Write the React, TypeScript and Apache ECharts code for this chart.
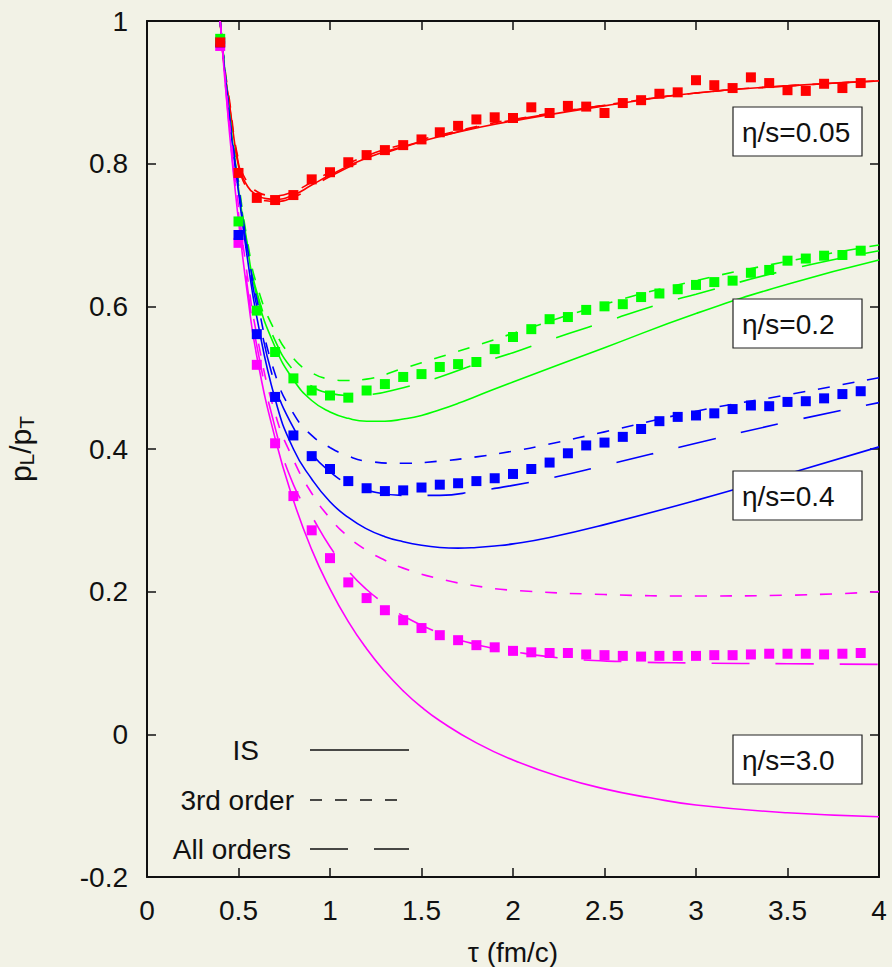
import React, { useEffect, useRef } from "react";
import * as echarts from "echarts";

const FONT = '"Liberation Sans", Arial, sans-serif';
const INK = "#111";
const FS = 28;

const TAU = [0.4, 0.5, 0.6, 0.7, 0.8, 0.9, 1.0, 1.1, 1.2, 1.3, 1.4, 1.5, 1.6, 1.7, 1.8, 1.9, 2.0, 2.1, 2.2, 2.3, 2.4, 2.5, 2.6, 2.7, 2.8, 2.9, 3.0, 3.1, 3.2, 3.3, 3.4, 3.5, 3.6, 3.7, 3.8, 3.9];

const RED_PTS = [0.97, 0.787, 0.752, 0.749, 0.756, 0.778, 0.788, 0.802, 0.812, 0.819, 0.826, 0.834, 0.844, 0.853, 0.862, 0.865, 0.864, 0.879, 0.871, 0.881, 0.88, 0.871, 0.885, 0.889, 0.898, 0.9, 0.917, 0.91, 0.906, 0.921, 0.913, 0.903, 0.902, 0.912, 0.906, 0.913];
const GREEN_PTS = [0.975, 0.719, 0.594, 0.536, 0.499, 0.482, 0.475, 0.472, 0.482, 0.491, 0.501, 0.505, 0.515, 0.519, 0.522, 0.54, 0.557, 0.568, 0.582, 0.585, 0.595, 0.6, 0.603, 0.613, 0.618, 0.624, 0.63, 0.634, 0.636, 0.647, 0.651, 0.664, 0.667, 0.671, 0.672, 0.678];
const BLUE_PTS = [0.97, 0.7, 0.561, 0.473, 0.419, 0.39, 0.372, 0.355, 0.345, 0.341, 0.342, 0.346, 0.35, 0.352, 0.355, 0.359, 0.365, 0.372, 0.381, 0.394, 0.405, 0.409, 0.417, 0.428, 0.439, 0.445, 0.447, 0.45, 0.456, 0.461, 0.46, 0.466, 0.467, 0.471, 0.477, 0.481];
const MAG_PTS = [0.965, 0.689, 0.518, 0.408, 0.334, 0.286, 0.247, 0.213, 0.191, 0.174, 0.16, 0.149, 0.139, 0.132, 0.125, 0.122, 0.117, 0.115, 0.114, 0.114, 0.112, 0.111, 0.11, 0.109, 0.11, 0.11, 0.11, 0.111, 0.111, 0.112, 0.113, 0.113, 0.113, 0.112, 0.113, 0.114];

const RED_IS = [[0.4, 1.0], [0.42, 0.94], [0.45, 0.885], [0.5, 0.8], [0.55, 0.768], [0.6, 0.756], [0.65, 0.751], [0.7, 0.75], [0.8, 0.756], [0.9, 0.77], [1.0, 0.784], [1.2, 0.808], [1.4, 0.824], [1.6, 0.838], [1.8, 0.85], [2.0, 0.86], [2.5, 0.881], [3.0, 0.899], [3.5, 0.909], [4.0, 0.916]];
const RED_3RD = [[0.4, 1.0], [0.42, 0.945], [0.45, 0.89], [0.5, 0.805], [0.55, 0.773], [0.6, 0.761], [0.65, 0.756], [0.7, 0.755], [0.8, 0.761], [0.9, 0.774], [1.0, 0.788], [1.2, 0.811], [1.4, 0.827], [1.6, 0.84], [1.8, 0.852], [2.0, 0.862], [2.5, 0.882], [3.0, 0.899], [3.5, 0.909], [4.0, 0.916]];
const RED_ALL = [[0.4, 1.0], [0.42, 0.94], [0.45, 0.882], [0.5, 0.797], [0.55, 0.764], [0.6, 0.752], [0.65, 0.748], [0.7, 0.747], [0.8, 0.753], [0.9, 0.767], [1.0, 0.782], [1.2, 0.806], [1.4, 0.823], [1.6, 0.838], [1.8, 0.851], [2.0, 0.861], [2.5, 0.882], [3.0, 0.899], [3.5, 0.909], [4.0, 0.916]];

const GREEN_IS = [[0.4, 1.0], [0.45, 0.87], [0.5, 0.765], [0.55, 0.68], [0.6, 0.615], [0.7, 0.543], [0.8, 0.497], [0.9, 0.468], [1.0, 0.452], [1.1, 0.443], [1.2, 0.439], [1.3, 0.439], [1.4, 0.442], [1.5, 0.447], [1.6, 0.455], [1.7, 0.464], [1.8, 0.474], [2.0, 0.494], [2.5, 0.542], [3.0, 0.59], [3.5, 0.631], [4.0, 0.665]];
const GREEN_3RD = [[0.4, 1.0], [0.45, 0.875], [0.5, 0.775], [0.55, 0.69], [0.6, 0.63], [0.7, 0.565], [0.8, 0.527], [0.9, 0.507], [1.0, 0.498], [1.1, 0.496], [1.2, 0.498], [1.4, 0.513], [1.6, 0.529], [1.8, 0.545], [2.0, 0.562], [2.5, 0.603], [3.0, 0.636], [3.5, 0.663], [4.0, 0.686]];
const GREEN_ALL = [[0.4, 1.0], [0.45, 0.87], [0.5, 0.77], [0.55, 0.685], [0.6, 0.62], [0.7, 0.552], [0.8, 0.51], [0.9, 0.488], [1.0, 0.478], [1.1, 0.475], [1.2, 0.476], [1.4, 0.486], [1.6, 0.501], [1.8, 0.519], [2.0, 0.535], [2.2, 0.553], [2.5, 0.578], [2.8, 0.603], [3.0, 0.617], [3.5, 0.651], [4.0, 0.678]];

const BLUE_IS = [[0.4, 1.0], [0.45, 0.865], [0.5, 0.76], [0.55, 0.665], [0.6, 0.585], [0.7, 0.47], [0.8, 0.4], [0.9, 0.358], [1.0, 0.326], [1.1, 0.304], [1.2, 0.288], [1.3, 0.277], [1.4, 0.27], [1.5, 0.265], [1.6, 0.262], [1.7, 0.261], [1.8, 0.262], [1.9, 0.264], [2.0, 0.267], [2.2, 0.276], [2.5, 0.294], [3.0, 0.328], [3.5, 0.365], [4.0, 0.403]];
const BLUE_3RD = [[0.4, 1.0], [0.45, 0.87], [0.5, 0.77], [0.55, 0.68], [0.6, 0.61], [0.7, 0.505], [0.8, 0.45], [0.9, 0.419], [1.0, 0.402], [1.1, 0.39], [1.2, 0.383], [1.4, 0.38], [1.6, 0.383], [1.8, 0.389], [2.0, 0.397], [2.2, 0.407], [2.5, 0.424], [3.0, 0.453], [3.5, 0.476], [4.0, 0.5]];
const BLUE_ALL = [[0.4, 1.0], [0.45, 0.868], [0.5, 0.765], [0.55, 0.675], [0.6, 0.6], [0.7, 0.49], [0.8, 0.43], [0.9, 0.393], [1.0, 0.368], [1.1, 0.351], [1.2, 0.342], [1.4, 0.335], [1.6, 0.335], [1.8, 0.341], [2.0, 0.349], [2.2, 0.359], [2.5, 0.377], [3.0, 0.408], [3.5, 0.438], [4.0, 0.465]];

const MAG_IS = [[0.4, 1.0], [0.45, 0.845], [0.5, 0.72], [0.55, 0.615], [0.6, 0.53], [0.7, 0.415], [0.8, 0.328], [0.9, 0.259], [1.0, 0.204], [1.1, 0.158], [1.2, 0.12], [1.3, 0.088], [1.4, 0.061], [1.5, 0.038], [1.6, 0.019], [1.8, -0.012], [2.0, -0.036], [2.25, -0.059], [2.5, -0.0765], [2.75, -0.089], [3.0, -0.099], [3.5, -0.11], [4.0, -0.1155]];
const MAG_3RD = [[0.4, 1.0], [0.45, 0.86], [0.5, 0.74], [0.55, 0.64], [0.6, 0.56], [0.7, 0.45], [0.8, 0.385], [0.9, 0.338], [1.0, 0.303], [1.1, 0.277], [1.2, 0.258], [1.3, 0.244], [1.4, 0.233], [1.6, 0.218], [1.8, 0.208], [2.0, 0.202], [2.5, 0.196], [3.0, 0.194], [3.5, 0.195], [4.0, 0.2]];
const MAG_ALL = [[0.4, 1.0], [0.45, 0.85], [0.5, 0.73], [0.55, 0.625], [0.6, 0.545], [0.7, 0.43], [0.8, 0.35], [0.9, 0.306], [1.0, 0.263], [1.1, 0.229], [1.2, 0.203], [1.3, 0.183], [1.4, 0.166], [1.6, 0.142], [1.8, 0.126], [2.0, 0.116], [2.3, 0.106], [2.6, 0.102], [3.0, 0.1], [3.5, 0.099], [4.0, 0.098]];

const LABELS = ["η/s=0.05", "η/s=0.2", "η/s=0.4", "η/s=3.0"];
const LEGEND_NAMES = ["IS", "3rd order", "All orders"];

const RED = "#ff0000";
const GREEN = "#00ff00";
const BLUE = "#0000ff";
const MAG = "#ff00ff";

const DASH_SHORT = [12, 13];
const DASH_LONG = [38, 26];

function curve(data: number[][], color: string, type: any) {
  return {
    type: "line",
    data,
    symbol: "none",
    showSymbol: false,
    smooth: 0.5,
    silent: true,
    z: 2,
    lineStyle: { color, width: 1.6, type, opacity: 1 },
  };
}

function points(vals: number[], color: string) {
  return {
    type: "scatter",
    data: TAU.map((t, i) => [t, vals[i]]),
    symbol: "rect",
    symbolSize: 10,
    silent: true,
    z: 3,
    itemStyle: { color, opacity: 1 },
  };
}

const axisLine = { show: true, onZero: false, lineStyle: { color: INK, width: 2 } };
const axisTick = { show: true, inside: true, length: 9, lineStyle: { color: INK, width: 1.5 } };
const axisLabel = { fontSize: FS, color: INK, fontFamily: FONT };

export default function App() {
  const ref = useRef<HTMLDivElement>(null);
  useEffect(() => {
    if (!ref.current) return;
    const chart = echarts.init(ref.current, null, { renderer: "svg" });

    const boxes = [{ y: 107 }, { y: 299 }, { y: 471 }, { y: 735 }];
    const graphics: any[] = [];
    boxes.forEach((b, i) => {
      graphics.push({
        type: "rect",
        z: 100,
        shape: { x: 733, y: b.y, width: 129, height: 49 },
        style: { fill: "#ffffff", stroke: "#222", lineWidth: 1.2 },
      });
      graphics.push({
        type: "text",
        z: 101,
        x: 742,
        y: b.y + 25,
        style: {
          text: LABELS[i],
          fill: INK,
          font: `${FS}px ${FONT}`,
          align: "left",
          verticalAlign: "middle",
          textAlign: "left",
          textVerticalAlign: "middle",
        },
      });
    });
    const legendRows = [
      { tx: 259, y: 750, x2: 409, dash: null },
      { tx: 294, y: 800, x2: 401, dash: DASH_SHORT },
      { tx: 291, y: 849, x2: 409, dash: DASH_LONG },
    ];
    legendRows.forEach((r, i) => {
      graphics.push({
        type: "text",
        z: 101,
        x: r.tx,
        y: r.y,
        style: {
          text: LEGEND_NAMES[i],
          fill: INK,
          font: `${FS}px ${FONT}`,
          align: "right",
          verticalAlign: "middle",
          textAlign: "right",
          textVerticalAlign: "middle",
        },
      });
      graphics.push({
        type: "line",
        z: 101,
        shape: { x1: 310, y1: r.y, x2: r.x2, y2: r.y },
        style: { stroke: INK, lineWidth: 1.6, lineDash: r.dash || undefined },
      });
    });

    chart.setOption({
      animation: false,
      backgroundColor: "#f2f2e6",
      grid: { left: 147, right: 13, top: 21, bottom: 90, containLabel: false, outerBoundsMode: "none" },
      xAxis: [
        {
          type: "value",
          position: "bottom",
          min: 0,
          max: 4,
          interval: 0.5,
          axisLine,
          axisTick,
          axisLabel: { ...axisLabel, margin: 19 },
          splitLine: { show: false },
          name: "τ (fm/c)",
          nameLocation: "middle",
          nameGap: 61,
          nameTextStyle: { fontSize: FS, color: INK, fontFamily: FONT },
        },
        {
          type: "value",
          position: "top",
          min: 0,
          max: 4,
          interval: 0.5,
          axisLine,
          axisTick,
          axisLabel: { show: false },
          splitLine: { show: false },
        },
      ],
      yAxis: [
        {
          type: "value",
          position: "left",
          min: -0.2,
          max: 1,
          interval: 0.2,
          axisLine,
          axisTick,
          axisLabel: { ...axisLabel, margin: 19 },
          splitLine: { show: false },
          name: "{p|p}{s|L}{p|/p}{s|T}",
          nameLocation: "middle",
          nameGap: 110,
          nameRotate: 90,
          nameTextStyle: {
            color: INK,
            fontFamily: FONT,
            rich: {
              p: { fontSize: 30, fontFamily: FONT, color: INK, lineHeight: 32, verticalAlign: "top" },
              s: { fontSize: 21, fontFamily: FONT, color: INK, lineHeight: 10, verticalAlign: "bottom" },
            },
          },
        },
        {
          type: "value",
          position: "right",
          min: -0.2,
          max: 1,
          interval: 0.2,
          axisLine,
          axisTick,
          axisLabel: { show: false },
          splitLine: { show: false },
        },
      ],
      graphic: graphics,
      series: [
        curve(RED_IS, RED, "solid"),
        curve(RED_3RD, RED, DASH_SHORT),
        curve(RED_ALL, RED, DASH_LONG),
        curve(GREEN_IS, GREEN, "solid"),
        curve(GREEN_3RD, GREEN, DASH_SHORT),
        curve(GREEN_ALL, GREEN, DASH_LONG),
        curve(BLUE_IS, BLUE, "solid"),
        curve(BLUE_3RD, BLUE, DASH_SHORT),
        curve(BLUE_ALL, BLUE, DASH_LONG),
        curve(MAG_IS, MAG, "solid"),
        curve(MAG_3RD, MAG, DASH_SHORT),
        curve(MAG_ALL, MAG, DASH_LONG),
        points(MAG_PTS, MAG),
        points(BLUE_PTS, BLUE),
        points(GREEN_PTS, GREEN),
        points(RED_PTS, RED),
      ],
    });
    return () => chart.dispose();
  }, []);
  return (
    <div
      ref={ref}
      style={{ position: "fixed", left: 0, top: 0, width: 892, height: 967 }}
    />
  );
}
